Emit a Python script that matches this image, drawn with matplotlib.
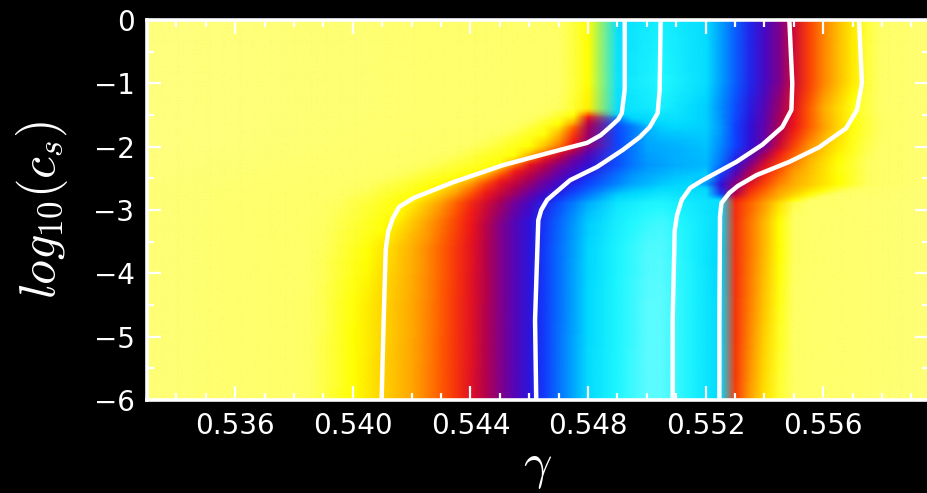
import numpy as np
import matplotlib
matplotlib.use("Agg")
import matplotlib.pyplot as plt
from matplotlib.colors import LinearSegmentedColormap
from matplotlib.image import NonUniformImage
from matplotlib.ticker import MultipleLocator, FormatStrFormatter

plt.rcParams["mathtext.fontset"] = "cm"

# ---- phase field: for every table row (log10 c_s), the gamma where the field
# ---- passes each level; the map is rebuilt from these nodes row by row
row_y = [0.0, -1.0, -1.4, -1.7, -2.0, -2.3, -2.6, -2.9, -3.2, -3.6, -4.5, -6.0]

edge_left = [0.0, 0.0, 0.0, 0.0, 0.0, 0.005, 0.01, 0.01, 0.01, 0.01, 0.01, 0.01]
edge_right = [0.01, 0.01, 0.01, 0.01, 0.01, 0.01, 0.01, 0.01, 0.01, 0.01, 0.01, 0.01]

# rising branch (light yellow -> cyan)
g_04 = [0.5471, 0.5471, 0.5468, 0.5452, 0.5437, 0.5418, 0.5400, 0.5389, 0.5386, 0.5385, 0.5384, 0.5383]
g_10 = [0.5480, 0.5480, 0.54795, 0.54688, 0.5460, 0.5450, 0.54297, 0.54178, 0.54127, 0.54059, 0.54008, 0.5400]
g_25 = [0.54825, 0.54825, 0.54825, 0.54733, 0.5468, 0.5453, 0.54393, 0.54297, 0.54256, 0.54229, 0.54219, 0.54212]
g_40 = [0.54825, 0.54825, 0.54825, 0.54773, 0.54746, 0.54586, 0.54484, 0.54416, 0.54399, 0.54389, 0.54386, 0.54383]
g_55 = [0.54825, 0.54825, 0.54825, 0.54818, 0.54814, 0.54722, 0.54637, 0.54552, 0.54518, 0.54518, 0.54518, 0.54518]
g_70 = [0.54825, 0.54825, 0.54825, 0.54893, 0.54893, 0.54876, 0.54790, 0.54688, 0.54665, 0.54658, 0.54658, 0.54654]

# cyan plateau
p1_g = [0.5483, 0.5483, 0.5483, 0.5503, 0.5500, 0.5498, 0.54944, 0.54860, 0.54840, 0.54830, 0.54825, 0.54820]
p1_v = [0.85, 0.85, 0.85, 0.84, 0.80, 0.78, 0.80, 0.87, 0.88, 0.88, 0.88, 0.88]
p2_g = [0.5505, 0.5505, 0.5505, 0.5512, 0.5508, 0.5511, 0.5506, 0.5503, 0.5504, 0.5503, 0.5503, 0.5503]
p2_v = [0.90, 0.92, 0.90, 0.85, 0.81, 0.81, 0.84, 0.92, 0.95, 0.97, 0.98, 0.98]
p3_g = [0.5520, 0.5520, 0.5520, 0.5522, 0.5521, 0.5522, 0.5518, 0.5527, 0.5527, 0.5527, 0.5527, 0.5527]
p3_v = [0.86, 0.86, 0.84, 0.84, 0.83, 0.82, 0.86, 0.86, 0.85, 0.84, 0.84, 0.84]

# falling branch (cyan -> light yellow)
r_70 = [0.5532, 0.5532, 0.5531, 0.5530, 0.5530, 0.55267, 0.55223, 0.55275, 0.55275, 0.55275, 0.55275, 0.55275]
r_55 = [0.5544, 0.5544, 0.5542, 0.5541, 0.5540, 0.55335, 0.55284, 0.55275, 0.55275, 0.55275, 0.55275, 0.55275]
r_40 = [0.5552, 0.5552, 0.5551, 0.5550, 0.5547, 0.55413, 0.55359, 0.5528, 0.5528, 0.5528, 0.5528, 0.5528]
r_25 = [0.5562, 0.5562, 0.5559, 0.5560, 0.5556, 0.55522, 0.55471, 0.55403, 0.5538, 0.5538, 0.5537, 0.5535]
r_10 = [0.5572, 0.5572, 0.55685, 0.5569, 0.55675, 0.55641, 0.5565, 0.55471, 0.5545, 0.5545, 0.5544, 0.5542]
r_04 = [0.5578, 0.5578, 0.5579, 0.5581, 0.5579, 0.55777, 0.5578, 0.55522, 0.5550, 0.5551, 0.5550, 0.5549]

# ---- white boundary curves (gamma, log10 c_s)
curve1_y = [0.0, -1.10, -1.47, -1.57, -1.69, -1.82, -1.94, -2.08, -2.29, -2.56, -2.81, -2.95, -3.13,
            -3.35, -3.63, -4.74, -6.0]
curve1_x = [0.54925, 0.54925, 0.54915, 0.54903, 0.54875, 0.54843, 0.54797, 0.54681, 0.54512, 0.54342,
            0.54207, 0.54158, 0.54136, 0.54120, 0.54112, 0.54105, 0.54098]
curve2_y = [0.0, -1.10, -1.47, -1.69, -1.85, -2.05, -2.32, -2.53, -2.84, -3.00, -3.16, -4.74, -6.0]
curve2_x = [0.55047, 0.55044, 0.55037, 0.55010, 0.54976, 0.54919, 0.54831, 0.54739, 0.54661, 0.54641,
            0.54631, 0.54620, 0.54624]
curve3_y = [0.0, -1.00, -1.42, -1.69, -1.97, -2.24, -2.53, -2.65, -2.84, -3.08, -3.32, -4.74, -6.0]
curve3_x = [0.55485, 0.55495, 0.55492, 0.55461, 0.55393, 0.55305, 0.55190, 0.55148, 0.55119, 0.55103,
            0.55095, 0.55088, 0.55088]
curve4_y = [0.0, -1.00, -1.42, -1.71, -2.01, -2.24, -2.45, -2.62, -2.73, -2.89, -3.10, -4.74, -6.0]
curve4_x = [0.55722, 0.55732, 0.55715, 0.55678, 0.55586, 0.55485, 0.55373, 0.55310, 0.55281, 0.55254,
            0.55249, 0.55247, 0.55247]

x_ticks = [0.536, 0.540, 0.544, 0.548, 0.552, 0.556]
y_ticks = [0, -1, -2, -3, -4, -5, -6]

# colour scale along the phase value
cmap = LinearSegmentedColormap.from_list("phase", [
    (0.00, "#FFFF80"), (0.05, "#FFFF60"), (0.10, "#FFFF00"), (0.25, "#FFA000"),
    (0.33, "#FF5500"), (0.40, "#F01818"), (0.48, "#B00050"), (0.55, "#7000A0"),
    (0.63, "#3010D8"), (0.70, "#1040FF"), (0.78, "#0090FF"), (0.85, "#00D8FF"),
    (0.92, "#20F8FF"), (1.00, "#80FFFF")])

# ---- sample the field on a gamma grid (wider step across the upper jump)
gx = np.arange(0.5325, 0.56001, 0.0005)
gx = gx[np.abs(gx - 0.5485) > 1e-7]
gy = np.linspace(-6.0, 0.0, 121)
ry = np.array(row_y)[::-1]


def along_y(values):
    return np.interp(gy, ry, np.array(values)[::-1])


node_g = [g_04, g_10, g_25, g_40, g_55, g_70, p1_g, p2_g, p3_g,
          r_70, r_55, r_40, r_25, r_10, r_04]
node_g = np.array([along_y(n) for n in node_g])
lv = np.array([0.04, 0.10, 0.25, 0.40, 0.55, 0.70])
pv = np.array([along_y(p1_v), along_y(p2_v), along_y(p3_v)])
el = along_y(edge_left)
er = along_y(edge_right)

field = np.empty((gy.size, gx.size))
for i in range(gy.size):
    xs = np.concatenate([[0.5320], node_g[:, i], [0.5605]])
    vs = np.concatenate([[el[i]], lv, pv[:, i], lv[::-1], [er[i]]])
    field[i] = np.interp(gx, xs, vs)

fig = plt.figure(figsize=(9.28, 4.93), dpi=100, facecolor="black")
ax = fig.add_axes([147 / 928, 93 / 493, 782 / 928, 380 / 493])
ax.set_facecolor("black")

im = NonUniformImage(ax, interpolation="bilinear", cmap=cmap,
                     extent=(0.533, 0.5596, -6, 0))
im.set_data(gx, gy, field)
im.set_clim(0, 1)
ax.add_image(im)

for cx, cy in [(curve1_x, curve1_y), (curve2_x, curve2_y),
               (curve3_x, curve3_y), (curve4_x, curve4_y)]:
    ax.plot(cx, cy, color="white", lw=3.2, solid_capstyle="butt",
            solid_joinstyle="round")

ax.set_xlim(0.533, 0.5596)
ax.set_ylim(-6, 0)
ax.set_xticks(x_ticks)
ax.set_yticks(y_ticks)
ax.xaxis.set_major_formatter(FormatStrFormatter("%.3f"))
ax.xaxis.set_minor_locator(MultipleLocator(0.001))
ax.yaxis.set_minor_locator(MultipleLocator(0.5))
ax.tick_params(which="both", direction="in", top=True, right=True,
               color="white", labelcolor="white", width=1.6)
ax.tick_params(which="major", length=10, labelsize=20, pad=9)
ax.tick_params(which="minor", length=5)
for s in ax.spines.values():
    s.set_color("white")
    s.set_linewidth(2.6)
    s.set_zorder(5)

ax.set_xlabel(r"$\gamma$", fontsize=36, color="white")
ax.set_ylabel(r"$log_{10}(c_s)$", fontsize=36, color="white")
ax.xaxis.set_label_coords(0.5, -0.112)
ax.yaxis.set_label_coords(-0.098, 0.5)

fig.savefig("out.png", dpi=100, facecolor="black")
